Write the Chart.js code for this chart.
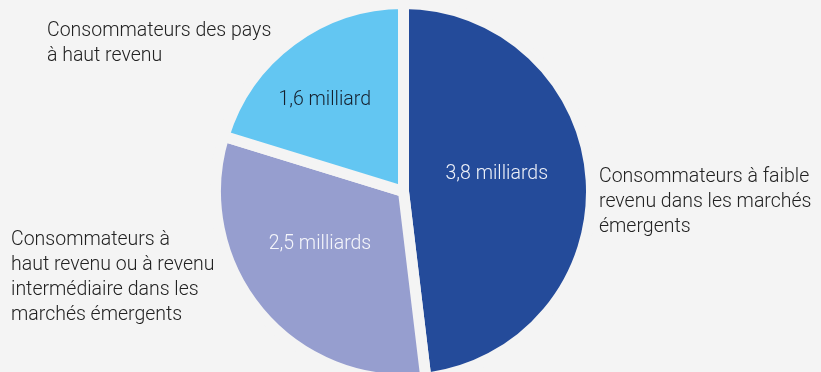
<!DOCTYPE html>
<html lang="fr">
<head>
<meta charset="utf-8">
<script src="https://cdn.jsdelivr.net/npm/chart.js@4/dist/chart.umd.min.js"></script>
<style>
  html, body { margin: 0; padding: 0; background: #f4f4f4; }
  #wrap { width: 821px; height: 372px; position: relative; }
</style>
</head>
<body>
<div id="wrap"><canvas id="pie"></canvas></div>
<script>
// ---- data ----
const categories = [
    ['Consommateurs à faible', 'revenu dans les marchés', 'émergents'],
    ['Consommateurs à', 'haut revenu ou à revenu', 'intermédiaire dans les', 'marchés émergents'],
    ['Consommateurs des pays', 'à haut revenu']
];
const values = [3.8, 2.5, 1.6];          // milliards de consommateurs
const valueLabels = ['3,8 milliards', '2,5 milliards', '1,6 milliard'];

// ---- look ----
const sliceColors = ['#244b9a', '#969ecf', '#63c6f2'];
const valueTextColors = ['#eef1f8', '#f5f6fb', '#15202e'];
const bg = '#f4f4f4';
const FONT = '300 19.5px Roboto, "Liberation Sans", sans-serif';
const LINE_H = 25;

// where the value text sits inside each slice: angle shift (deg) from the mid angle, radius fraction
const valueSpots = [
    { dAngle: -7.2, rFrac: 0.52 },
    { dAngle: 7.8, rFrac: 0.54 },
    { dAngle: -4.4, rFrac: 0.66 }
];
// outer category text, offset from the pie centre (left edge, first baseline)
const catSpots = [
    { dx: 195.5, dy: -9.5 },
    { dx: -392.5, dy: 53.5 },
    { dx: -356.5, dy: -155.5 }
];

const labelPlugin = {
    id: 'sliceLabels',
    afterDatasetsDraw(chart) {
        const ctx = chart.ctx;
        const arcs = chart.getDatasetMeta(0).data;
        ctx.save();
        ctx.font = FONT;
        arcs.forEach(function(arc, i) {
            const p = arc.getProps(['x', 'y', 'startAngle', 'endAngle', 'outerRadius'], true);
            const visR = p.outerRadius - 5.5;
            const mid = (p.startAngle + p.endAngle) / 2 + valueSpots[i].dAngle * Math.PI / 180;
            const r = visR * valueSpots[i].rFrac;
            ctx.fillStyle = valueTextColors[i];
            ctx.textAlign = 'center';
            ctx.textBaseline = 'middle';
            ctx.fillText(valueLabels[i], p.x + Math.cos(mid) * r, p.y + Math.sin(mid) * r);

            ctx.fillStyle = '#222222';
            ctx.textAlign = 'left';
            ctx.textBaseline = 'alphabetic';
            categories[i].forEach(function(line, k) {
                ctx.fillText(line, p.x + catSpots[i].dx, p.y + catSpots[i].dy + k * LINE_H);
            });
        });
        ctx.restore();
    }
};

new Chart(document.getElementById('pie'), {
    type: 'pie',
    data: {
        labels: categories.map(c => c.join(' ')),
        datasets: [{
            data: values,
            backgroundColor: sliceColors,
            borderColor: bg,
            borderWidth: 11,
            clip: false
        }]
    },
    options: {
        responsive: true,
        maintainAspectRatio: false,
        animation: false,
        radius: 188,
        layout: { padding: { top: 11, right: 14, bottom: 0, left: 0 } },
        plugins: {
            legend: { display: false },
            tooltip: { enabled: false }
        }
    },
    plugins: [labelPlugin]
});
</script>
</body>
</html>
